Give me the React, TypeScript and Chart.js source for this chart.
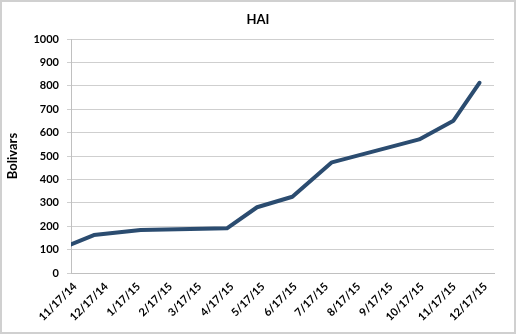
import React, { useEffect, useRef } from "react";
import { Chart, registerables } from "chart.js";

Chart.register(...registerables);

const titleText = "HAI";
const yAxisTitle = "Bolivars";
// tick label dates (month/day/year)
const tickDates = [
  "11/17/14", "12/17/14", "1/17/15", "2/17/15", "3/17/15", "4/17/15", "5/17/15",
  "6/17/15", "7/17/15", "8/17/15", "9/17/15", "10/17/15", "11/17/15", "12/17/15",
];
// observation dates and values
const obsDates = [
  "11/17/14", "12/9/14", "1/23/15", "4/16/15", "5/15/15", "6/18/15",
  "7/26/15", "10/18/15", "11/20/15", "12/15/15",
];
const haiValues = [122, 162, 184, 191, 281, 326, 473, 571, 651, 813];
const yTicks = [0, 100, 200, 300, 400, 500, 600, 700, 800, 900, 1000];
const axisEndDate = "12/29/15";

const FONT = "Lato, 'Open Sans', sans-serif";

function toDay(s: string): number {
  const [m, d, y] = s.split("/").map(Number);
  return Date.UTC(2000 + y, m - 1, d) / 86400000;
}

export default function App() {
  const ref = useRef<HTMLCanvasElement | null>(null);
  useEffect(() => {
    const canvas = ref.current;
    if (!canvas) return;
    const tickDays = tickDates.map(toDay);
    const labelByDay = new Map<number, string>();
    tickDates.forEach((t, i) => labelByDay.set(tickDays[i], t));
    const framePlugin = {
      id: "frame",
      beforeDraw(chart: any) {
        const ctx = chart.ctx;
        ctx.save();
        ctx.fillStyle = "#ffffff";
        ctx.fillRect(0, 0, chart.width, chart.height);
        ctx.strokeStyle = "#d0d0d0";
        ctx.lineWidth = 2;
        ctx.strokeRect(1, 1, chart.width - 2, chart.height - 2);
        ctx.restore();
      },
      afterDraw(chart: any) {
        const ctx = chart.ctx;
        ctx.save();
        ctx.fillStyle = "#000000";
        ctx.font = `bold 13px ${FONT}`;
        ctx.textAlign = "center";
        ctx.textBaseline = "middle";
        ctx.fillText(titleText, chart.width / 2, 20);
        ctx.restore();
      },
    };
    const chart = new Chart(canvas, {
      type: "line",
      data: {
        datasets: [
          {
            label: titleText,
            data: haiValues.map((v, i) => ({ x: toDay(obsDates[i]), y: v })),
            borderColor: "#2b4c70",
            borderWidth: 4,
            pointRadius: 0,
            tension: 0,
            fill: false,
            borderJoinStyle: "round",
            borderCapStyle: "round",
          },
        ],
      },
      options: {
        animation: false,
        responsive: false,
        maintainAspectRatio: false,
        layout: { padding: { left: 0, top: 39, right: 22, bottom: 0 } },
        plugins: { legend: { display: false }, title: { display: false }, tooltip: { enabled: false } },
        scales: {
          x: {
            type: "linear",
            min: tickDays[0],
            max: toDay(axisEndDate),
            afterBuildTicks: (s: any) => {
              s.ticks = tickDays.map((v) => ({ value: v }));
            },
            afterFit: (s: any) => {
              s.height = 61;
              s.paddingLeft = 0;
              s.paddingRight = 0;
            },
            grid: { display: false, drawTicks: false },
            border: { display: true, color: "#c0c0c0", width: 1 },
            ticks: {
              autoSkip: false,
              minRotation: 45,
              maxRotation: 45,
              padding: 7,
              labelOffset: 4,
              color: "#000000",
              font: { family: FONT, size: 11, weight: "bold" },
              callback: (v: any) => labelByDay.get(Number(v)) ?? "",
            },
          },
          y: {
            min: 0,
            max: 1000,
            afterBuildTicks: (s: any) => {
              s.ticks = yTicks.map((v) => ({ value: v }));
            },
            afterFit: (s: any) => {
              s.width = 71;
            },
            grid: { color: "#cfcfcf", lineWidth: 1, tickLength: 4, drawTicks: true },
            border: { display: true, color: "#c0c0c0", width: 1 },
            ticks: {
              padding: 8,
              color: "#000000",
              font: { family: FONT, size: 11, weight: "bold" },
              callback: (v: any) => String(v),
            },
            title: {
              display: true,
              text: yAxisTitle,
              color: "#000000",
              font: { family: FONT, size: 13, weight: "bold" },
              padding: { top: 5, bottom: 0 },
            },
          },
        },
      },
      plugins: [framePlugin],
    } as any);
    return () => chart.destroy();
  }, []);
  return (
    <div style={{ position: "fixed", left: 0, top: 0, width: 516, height: 334 }}>
      <canvas ref={ref} width={516} height={334} style={{ display: "block" }} />
    </div>
  );
}
